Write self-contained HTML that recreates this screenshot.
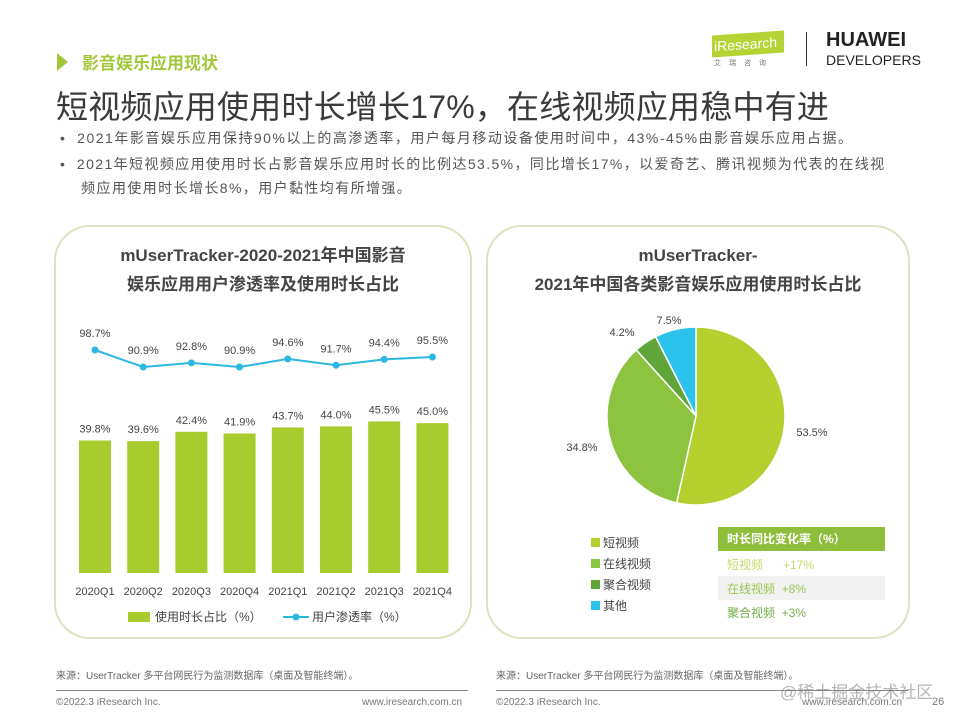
<!DOCTYPE html>
<html><head><meta charset="utf-8">
<style>
body{margin:0;width:960px;height:720px;background:#fff;font-family:"Liberation Sans","Noto Sans CJK SC",sans-serif;position:relative;overflow:hidden;color:#444}
.a{position:absolute;white-space:nowrap}
.panel{position:absolute;border:2px solid #dde2bd;border-radius:36px;background:#fff}
</style></head><body>
<div class="a" style="left:57px;top:53px;width:0;height:0;border-top:9px solid transparent;border-bottom:9px solid transparent;border-left:11px solid #a2c73b"></div>
<div class="a" style="left:82px;top:49px;font-size:17px;font-weight:bold;color:#a2c73b">影音娱乐应用现状</div>
<div class="a" style="left:712px;top:33px;width:70px;height:22px;background:#b5d334;color:#fff;font-size:14px;line-height:22px;padding-left:2px;transform:skewY(-4deg)">iResearch</div>
<div class="a" style="left:714px;top:58px;font-size:7px;color:#777;letter-spacing:8px">艾瑞咨询</div>
<div class="a" style="left:806px;top:32px;width:1px;height:34px;background:#333"></div>
<div class="a" style="left:826px;top:29px;font-size:20px;font-weight:bold;color:#222">HUAWEI</div>
<div class="a" style="left:826px;top:52px;font-size:14px;color:#222">DEVELOPERS</div>
<div class="a" style="left:56px;top:82px;font-size:32px;letter-spacing:0.2px;color:#3a3a3a">短视频应用使用时长增长17%，在线视频应用稳中有进</div>
<div class="a" style="left:60px;top:128px;font-size:14px;letter-spacing:1.5px;color:#555">•&nbsp;&nbsp;2021年影音娱乐应用保持90%以上的高渗透率，用户每月移动设备使用时间中，43%-45%由影音娱乐应用占据。</div>
<div class="a" style="left:60px;top:152px;font-size:14px;letter-spacing:1.4px;color:#555;line-height:24px">•&nbsp;&nbsp;2021年短视频应用使用时长占影音娱乐应用时长的比例达53.5%，同比增长17%，以爱奇艺、腾讯视频为代表的在线视<br>&nbsp;&nbsp;&nbsp;&nbsp;频应用使用时长增长8%，用户黏性均有所增强。</div>

<div class="panel" style="left:54px;top:225px;width:414px;height:410px"></div>
<div class="panel" style="left:486px;top:225px;width:420px;height:410px"></div>

<div class="a" style="left:54px;top:241px;width:418px;text-align:center;font-size:17px;font-weight:bold;color:#444;line-height:29px;white-space:normal">mUserTracker-2020-2021年中国影音<br>娱乐应用用户渗透率及使用时长占比</div>
<div class="a" style="left:486px;top:241px;width:424px;text-align:center;font-size:17px;font-weight:bold;color:#444;line-height:29px;white-space:normal">mUserTracker-<br>2021年中国各类影音娱乐应用使用时长占比</div>

<svg class="a" style="left:0;top:0" width="960" height="720" id="chart"></svg>

<div class="a" style="left:718px;top:527px;width:167px;height:24px;background:#8dbf3d;color:#fff;font-size:12px;font-weight:bold;line-height:24px;padding-left:9px;box-sizing:border-box">时长同比变化率（%）</div>
<div class="a" style="left:727px;top:556px;font-size:12px;color:#c9d66a">短视频&nbsp;&nbsp;&nbsp;&nbsp;&nbsp;&nbsp;+17%</div>
<div class="a" style="left:718px;top:576px;width:167px;height:24px;background:#f1f1f1"></div>
<div class="a" style="left:727px;top:580px;font-size:12px;color:#9cc652">在线视频&nbsp;&nbsp;+8%</div>
<div class="a" style="left:727px;top:604px;font-size:12px;color:#6fae45">聚合视频&nbsp;&nbsp;+3%</div>

<div class="a" style="left:56px;top:667px;font-size:10px;color:#666">来源：UserTracker 多平台网民行为监测数据库（桌面及智能终端）。</div>
<div class="a" style="left:496px;top:667px;font-size:10px;color:#666">来源：UserTracker 多平台网民行为监测数据库（桌面及智能终端）。</div>
<div class="a" style="left:56px;top:690px;width:412px;height:1px;background:#888"></div>
<div class="a" style="left:496px;top:690px;width:412px;height:1px;background:#888"></div>
<div class="a" style="left:56px;top:697px;font-size:10px;color:#777">©2022.3 iResearch Inc.</div>
<div class="a" style="left:362px;top:697px;font-size:10px;color:#777">www.iresearch.com.cn</div>
<div class="a" style="left:496px;top:697px;font-size:10px;color:#777">©2022.3 iResearch Inc.</div>
<div class="a" style="left:802px;top:697px;font-size:10px;color:#777">www.iresearch.com.cn</div>
<div class="a" style="left:932px;top:696px;font-size:11px;color:#777">26</div>
<div class="a" style="left:780px;top:678px;font-size:17px;color:rgba(120,120,120,0.55)">@稀土掘金技术社区</div>

<script>
const categories=["2020Q1","2020Q2","2020Q3","2020Q4","2021Q1","2021Q2","2021Q3","2021Q4"];
const timeShare=[39.8,39.6,42.4,41.9,43.7,44.0,45.5,45.0];
const penetration=[98.7,90.9,92.8,90.9,94.6,91.7,94.4,95.5];
const pieLabels=["短视频","在线视频","聚合视频","其他"];
const pieValues=[53.5,34.8,4.2,7.5];
const pieColors=["#b5cf2e","#8cc43f","#5fa53a","#2bc3ec"];
const NS="http://www.w3.org/2000/svg";
const svg=document.getElementById('chart');
function mk(t,a,p){const e=document.createElementNS(NS,t);for(const k in a)e.setAttribute(k,a[k]);(p||svg).appendChild(e);return e;}
const x=i=>95+i*48.2;
const yBar=v=>573-v*3.33;
const yLine=v=>350+(98.7-v)*2.18;
categories.forEach((c,i)=>{
  const r=mk('rect',{x:x(i)-16,y:yBar(timeShare[i]),width:32,height:573-yBar(timeShare[i]),fill:'#a8cb2e'});
  
  
  const t=mk('text',{x:x(i),y:yBar(timeShare[i])-8,'text-anchor':'middle','font-size':11,fill:'#444'});t.textContent=timeShare[i].toFixed(1)+'%';
  
  
  const xl=mk('text',{x:x(i),y:595,'text-anchor':'middle','font-size':11,fill:'#444'});xl.textContent=c;
  
  
});
const pl=mk('polyline',{points:penetration.map((v,i)=>x(i)+','+yLine(v)).join(' '),fill:'none',stroke:'#2bb8e0','stroke-width':2});


penetration.forEach((v,i)=>{
  const c=mk('circle',{cx:x(i),cy:yLine(v),r:3.5,fill:'#2bb8e0'});
  
  
  const t=mk('text',{x:x(i),y:yLine(v)-13,'text-anchor':'middle','font-size':11,fill:'#444'});t.textContent=v.toFixed(1)+'%';
  
  
});
const lb=mk('rect',{x:128,y:612,width:22,height:10,fill:'#a8cb2e'});


const lt1=mk('text',{x:155,y:621,'font-size':12,fill:'#444'});lt1.textContent='使用时长占比（%）';


const ll=mk('line',{x1:283,y1:617,x2:309,y2:617,stroke:'#2bb8e0','stroke-width':2});


mk('circle',{cx:296,cy:617,r:3.5,fill:'#2bb8e0'});
const lt2=mk('text',{x:312,y:621,'font-size':12,fill:'#444'});lt2.textContent='用户渗透率（%）';


const cx=696,cy=416,R=89;const tot=pieValues.reduce((a,b)=>a+b,0);
const labelPos=[[812,436],[582,451],[622,336],[669,324]];
let ang=0;
pieValues.forEach((v,i)=>{
  const a0=ang,a1=ang+v/tot*2*Math.PI;ang=a1;
  const p=(a)=>[cx+R*Math.sin(a),cy-R*Math.cos(a)];
  const [x0,y0]=p(a0),[x1,y1]=p(a1);
  const s=mk('path',{d:`M${cx},${cy}L${x0},${y0}A${R},${R} 0 ${a1-a0>Math.PI?1:0} 1 ${x1},${y1}Z`,fill:pieColors[i],stroke:'#fff','stroke-width':1.5});
  
  
  const t=mk('text',{x:labelPos[i][0],y:labelPos[i][1],'text-anchor':'middle','font-size':11,fill:'#444'});t.textContent=v.toFixed(1)+'%';
  
  
  const lr=mk('rect',{x:591,y:538+i*21,width:9,height:9,fill:pieColors[i]});
  
  
  const lt=mk('text',{x:603,y:547+i*21,'font-size':12,fill:'#444'});lt.textContent=pieLabels[i];
  
  
});
</script>
</body></html>
